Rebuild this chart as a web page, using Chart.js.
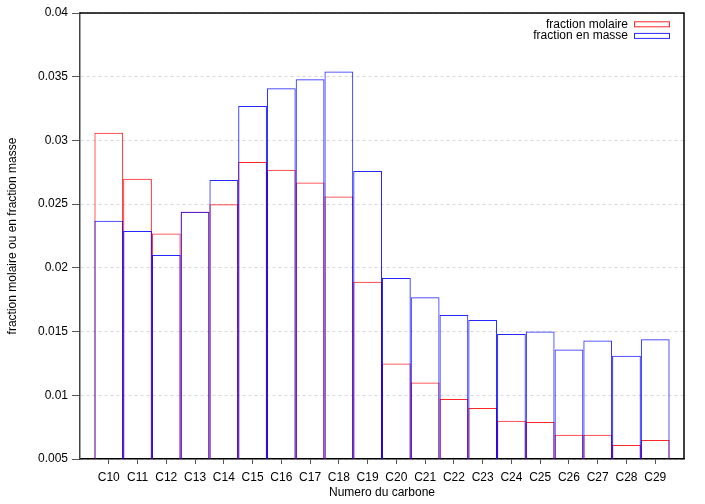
<!DOCTYPE html>
<html>
<head>
<meta charset="utf-8">
<script src="https://cdn.jsdelivr.net/npm/chart.js@4"></script>
<style>
  html, body { margin: 0; padding: 0; background: #fff; }
  #wrap { width: 705px; height: 504px; }
</style>
</head>
<body>
<div id="wrap"><canvas id="carbChart" width="705" height="504"></canvas></div>
<script>
// data
let carbonNumbers = [10, 11, 12, 13, 14, 15, 16, 17, 18, 19, 20, 21, 22, 23, 24, 25, 26, 27, 28, 29];
let categories = ["C10", "C11", "C12", "C13", "C14", "C15", "C16", "C17", "C18", "C19",
                  "C20", "C21", "C22", "C23", "C24", "C25", "C26", "C27", "C28", "C29"];
let fractionMolaire = [0.0306, 0.0270, 0.0227, 0.0244, 0.0250, 0.0283, 0.0277, 0.0267, 0.0256, 0.0189,
                       0.0125, 0.0110, 0.0097, 0.0090, 0.0080, 0.0079, 0.0069, 0.0069, 0.0061, 0.0065];
let fractionMasse = [0.0237, 0.0229, 0.0210, 0.0244, 0.0269, 0.0327, 0.0341, 0.0348, 0.0354, 0.0276,
                     0.0192, 0.0177, 0.0163, 0.0159, 0.0148, 0.0150, 0.0136, 0.0143, 0.0131, 0.0144];
let yTicks = [0.005, 0.01, 0.015, 0.02, 0.025, 0.03, 0.035, 0.04];

const FONT = "'Liberation Sans', Arial, Helvetica, sans-serif";

function toPoints(values) {
    return values.map((v, i) => ({ x: carbonNumbers[i], y: v }));
}

// frame on top/right + legend in the top right corner (gnuplot style)
const framePlugin = {
    id: "frameAndKey",
    afterDraw(chart) {
        let ctx = chart.ctx;
        let a = chart.chartArea;
        ctx.save();
        ctx.strokeStyle = "#000";
        ctx.lineWidth = 1.5;
        ctx.beginPath();
        ctx.moveTo(a.left, a.top);
        ctx.lineTo(a.right, a.top);
        ctx.lineTo(a.right, a.bottom);
        ctx.stroke();

        ctx.font = "12px " + FONT;
        ctx.textAlign = "right";
        ctx.textBaseline = "middle";
        chart.data.datasets.forEach((ds, i) => {
            let y = 24.3 + i * 11.6;
            ctx.fillStyle = "#000";
            ctx.fillText(ds.label, 628, y);
            ctx.strokeStyle = ds.borderColor;
            ctx.lineWidth = 1;
            ctx.strokeRect(634.5, y - 2.5, 35, 5);
        });
        ctx.restore();
    }
};

let ctx = document.getElementById("carbChart").getContext("2d");
let chart = new Chart(ctx, {
    type: "bar",
    data: {
        datasets: [
            {
                label: "fraction molaire",
                data: toPoints(fractionMolaire),
                borderColor: "rgba(255, 0, 0, 0.85)",
                backgroundColor: "rgba(0, 0, 0, 0)",
                borderWidth: 1,
                order: 2
            },
            {
                label: "fraction en masse",
                data: toPoints(fractionMasse),
                borderColor: "rgba(0, 0, 255, 0.85)",
                backgroundColor: "rgba(0, 0, 0, 0)",
                borderWidth: 1,
                order: 1
            }
        ]
    },
    options: {
        responsive: false,
        animation: false,
        devicePixelRatio: 1,
        layout: { padding: { top: 13, right: 21, left: 0, bottom: 0 } },
        datasets: {
            bar: {
                grouped: false,
                barPercentage: 1,
                categoryPercentage: 1,
                borderSkipped: "start",
                inflateAmount: 0
            }
        },
        plugins: {
            legend: { display: false },
            tooltip: { enabled: false }
        },
        scales: {
            x: {
                type: "linear",
                min: 9,
                max: 30,
                offset: false,
                afterFit: s => { s.height = 45; },
                afterBuildTicks: s => {
                    s.ticks = s.ticks.filter(t => t.value >= 10 && t.value <= 29);
                },
                grid: {
                    offset: false,
                    drawOnChartArea: false,
                    drawTicks: true,
                    tickLength: 5,
                    tickColor: "#555",
                    tickWidth: 1
                },
                border: { display: true, color: "#000", width: 1.5 },
                ticks: {
                    stepSize: 1,
                    autoSkip: false,
                    maxRotation: 0,
                    padding: 6,
                    color: "#000",
                    font: { family: FONT, size: 12 },
                    callback: v => categories[carbonNumbers.indexOf(v)] || ""
                },
                title: {
                    display: true,
                    text: "Numero du carbone",
                    color: "#000",
                    font: { family: FONT, size: 12 },
                    padding: { top: 0, bottom: 4 }
                }
            },
            y: {
                min: yTicks[0],
                max: yTicks[yTicks.length - 1],
                afterFit: s => { s.width = 80; },
                afterBuildTicks: s => {
                    s.ticks = yTicks.map(v => ({ value: v }));
                },
                grid: {
                    color: "#d8d8d8",
                    lineWidth: 1,
                    tickLength: 8,
                    tickColor: "#555",
                    tickBorderDash: []
                },
                border: { display: true, color: "#444", width: 1.5, dash: [3, 3] },
                ticks: {
                    padding: 4,
                    color: "#000",
                    font: { family: FONT, size: 12 },
                    callback: v => String(Number(v.toFixed(3)))
                },
                title: {
                    display: true,
                    text: "fraction molaire ou en fraction masse",
                    color: "#000",
                    font: { family: FONT, size: 12 },
                    padding: { top: 5, bottom: 0 }
                }
            }
        }
    },
    plugins: [framePlugin]
});
</script>
</body>
</html>
